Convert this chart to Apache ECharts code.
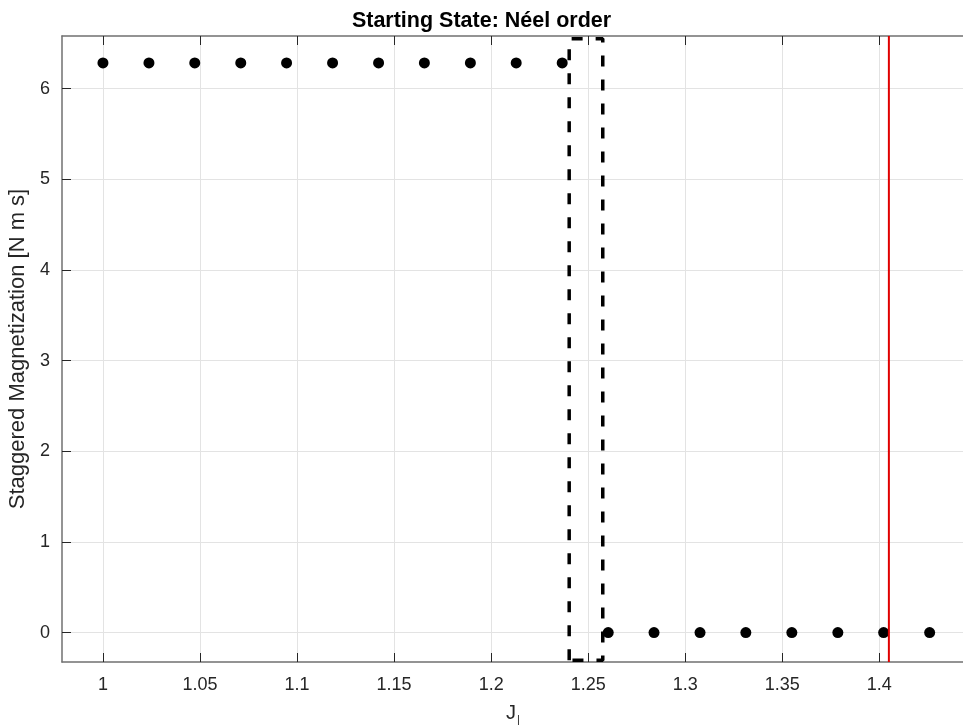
<!DOCTYPE html>
<html>
<head>
<meta charset="utf-8">
<title>Starting State: Néel order</title>
<script src="https://cdn.jsdelivr.net/npm/echarts@6/dist/echarts.min.js"></script>
<style>
  html, body { margin: 0; padding: 0; background: #fff; }
  #chart { width: 963px; height: 726px; }
</style>
</head>
<body>
<div id="chart"></div>
<script>
  // coupling values and staggered magnetization
  var jValues = [1, 1.0237, 1.0473, 1.071, 1.0946, 1.1183, 1.142, 1.1656, 1.1893, 1.2129, 1.2366,
    1.2603, 1.2839, 1.3076, 1.3312, 1.3549, 1.3786, 1.4022, 1.4259]
  var magValues = [6.2832, 6.2832, 6.2832, 6.2832, 6.2832, 6.2832, 6.2832, 6.2832, 6.2832, 6.2832, 6.2832,
    0, 0, 0, 0, 0, 0, 0, 0]

  // dashed box around the transition
  var boxX = [1.2402, 1.2402, 1.2575, 1.2575, 1.2402]
  var boxY = [-0.305, 6.55, 6.55, -0.305, -0.305]

  // red vertical marker
  var markerX = 1.4049

  var xTicks = [1, 1.05, 1.1, 1.15, 1.2, 1.25, 1.3, 1.35, 1.4]
  var yTicks = [0, 1, 2, 3, 4, 5, 6]
  var xMin = 0.9789, xMax = 1.4436
  var yMin = -0.324, yMax = 6.58

  var font = '"Liberation Sans", Arial, Helvetica, sans-serif'
  var axisGray = '#707070'
  var gridGray = '#e3e3e3'
  var tickDark = '#262626'

  var chart = echarts.init(document.getElementById('chart'))

  function xAxisOf(pos, showLabels) {
    return {
      type: 'value',
      position: pos,
      min: xMin,
      max: xMax,
      axisLine: { show: true, onZero: false, lineStyle: { color: axisGray, width: 1.5 } },
      axisTick: { show: true, inside: true, length: 9, customValues: xTicks, lineStyle: { color: tickDark, width: 1 } },
      axisLabel: {
        show: showLabels, customValues: xTicks, margin: 14,
        color: tickDark, fontSize: 18, fontFamily: font
      },
      splitLine: { show: showLabels, lineStyle: { color: gridGray, width: 1 } }
    }
  }

  var points = jValues.map(function (j, i) { return [j, magValues[i]] })
  var box = boxX.map(function (x, i) { return [x, boxY[i]] })

  chart.setOption({
    animation: false,
    backgroundColor: '#fff',
    title: {
      text: 'Starting State: Néel order',
      left: 'center',
      top: 5,
      textStyle: { fontFamily: font, fontSize: 21.5, fontWeight: 'bold', color: '#000' }
    },
    grid: { left: 62, right: -1, top: 36, bottom: 64, outerBoundsMode: 'none', containLabel: false },
    xAxis: [
      Object.assign(xAxisOf('bottom', true), {
        name: '{j|J}{s||}',
        nameLocation: 'middle',
        nameGap: 40,
        nameTextStyle: {
          rich: {
            j: { fontFamily: font, fontSize: 20, color: tickDark },
            s: { fontFamily: font, fontSize: 11, color: tickDark, verticalAlign: 'bottom', padding: [12, 0, 0, 1] }
          }
        }
      }),
      xAxisOf('top', false)
    ],
    yAxis: {
      type: 'value',
      min: yMin,
      max: yMax,
      name: 'Staggered Magnetization [N m s]',
      nameLocation: 'middle',
      nameGap: 31,
      nameTextStyle: { fontFamily: font, fontSize: 22, color: tickDark },
      axisLine: { show: true, onZero: false, lineStyle: { color: axisGray, width: 1.5 } },
      axisTick: { show: true, inside: true, length: 9, customValues: yTicks, lineStyle: { color: tickDark, width: 1 } },
      axisLabel: { customValues: yTicks, margin: 12, color: tickDark, fontSize: 18, fontFamily: font },
      splitLine: { show: true, lineStyle: { color: gridGray, width: 1 } }
    },
    series: [
      {
        type: 'scatter',
        data: points,
        symbol: 'circle',
        symbolSize: 11,
        itemStyle: { color: '#000', opacity: 1 },
        z: 4
      },
      {
        type: 'line',
        data: box,
        symbol: 'none',
        lineStyle: { color: '#000', width: 3.5, type: [11, 13], cap: 'butt' },
        z: 3
      },
      {
        type: 'line',
        data: [[markerX, yMin], [markerX, yMax]],
        symbol: 'none',
        lineStyle: { color: '#e00000', width: 2 },
        z: 5
      }
    ]
  })
</script>
</body>
</html>
